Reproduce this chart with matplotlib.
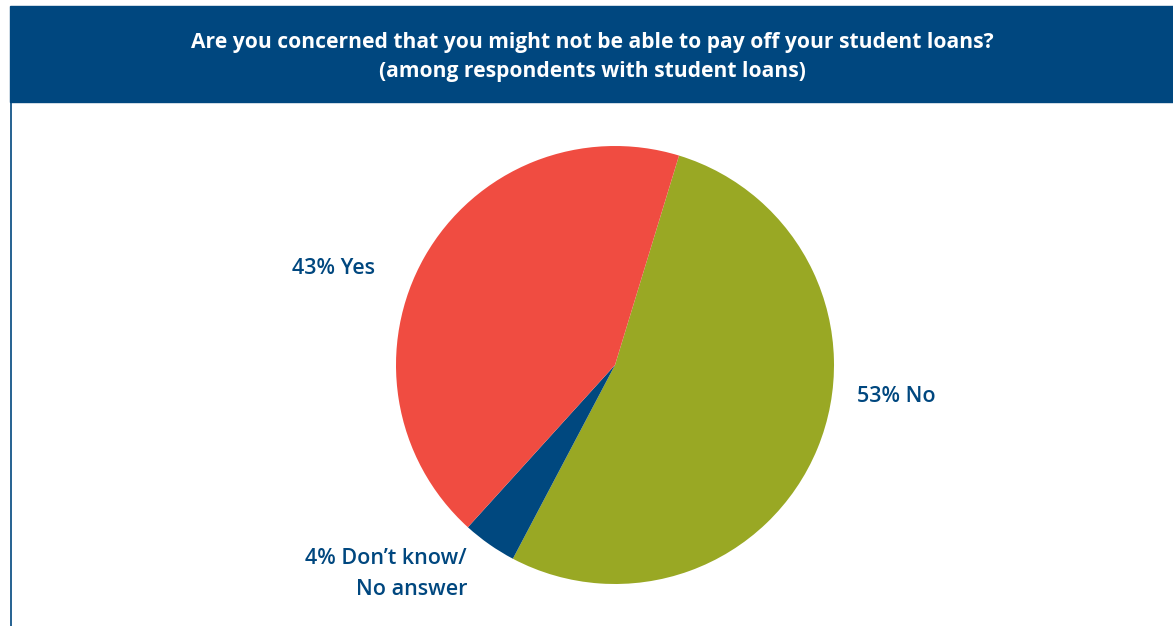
import matplotlib.pyplot as plt
from matplotlib.patches import Rectangle

# survey shares, drawn clockwise starting from the top
labels = ["53% No", "4% Don\u2019t know/\nNo answer", "43% Yes"]
shares = [53, 4, 43]
colors = ["#99A824", "#00487F", "#F04C41"]

title = ("Are you concerned that you might not be able to pay off your student loans?\n"
         "(among respondents with student loans)")

navy = "#00477F"
W, H = 1173, 626

fig = plt.figure(figsize=(W / 100, H / 100), dpi=100)
ax = fig.add_axes([0, 0, 1, 1])

# header banner and left rule
ax.add_patch(Rectangle((10, H - 102), W - 10, 96, color=navy, zorder=1))
ax.plot([10.5, 10.5], [0, H - 102], color=navy, lw=1.2)
ax.text(592, H - 57, title, ha="center", va="center", color="white",
        fontsize=15.1, fontweight="bold", family="Open Sans", linespacing=1.5)

ax.pie(shares, colors=colors, startangle=73, counterclock=False,
       center=(615, H - 365), radius=219, frame=True)
ax.set_xlim(0, W)
ax.set_ylim(0, H)
ax.axis("off")

lab_kw = dict(color=navy, fontsize=15.5, fontweight="semibold", family="Open Sans")
ax.text(896, H - 396, labels[0], ha="center", va="center", **lab_kw)
ax.text(467, H - 574, labels[1], ha="right", va="center", linespacing=1.65, **lab_kw)
ax.text(334, H - 269, labels[2], ha="center", va="center", **lab_kw)

fig.savefig("out.png", dpi=100)
